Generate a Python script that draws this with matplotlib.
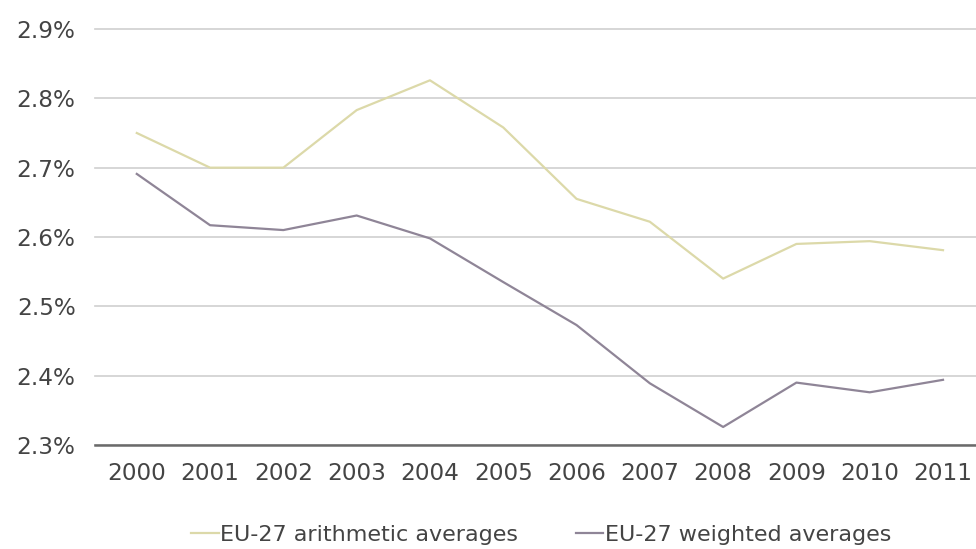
import matplotlib
matplotlib.use("Agg")
import matplotlib.pyplot as plt
from matplotlib.ticker import FuncFormatter

years = ["2000", "2001", "2002", "2003", "2004", "2005", "2006", "2007", "2008", "2009", "2010", "2011"]
arithmetic = [2.75, 2.70, 2.70, 2.783, 2.826, 2.758, 2.655, 2.622, 2.540, 2.590, 2.594, 2.581]
weighted = [2.691, 2.617, 2.610, 2.631, 2.598, 2.535, 2.473, 2.389, 2.326, 2.390, 2.376, 2.394]
yticks = [2.3, 2.4, 2.5, 2.6, 2.7, 2.8, 2.9]

plt.rcParams['font.family'] = ['DejaVu Sans']

fig = plt.figure(figsize=(9.76, 5.49), dpi=100)
ax = fig.add_axes([95/976, 1 - 445/549, 1 - 95/976, (445 - 29)/549])

x = list(range(len(years)))
l1, = ax.plot(x, arithmetic, color="#dcd9a9", lw=1.6, label="EU-27 arithmetic averages")
l2, = ax.plot(x, weighted, color="#8f8597", lw=1.6, label="EU-27 weighted averages")

ax.set_ylim(2.3, 2.9)
ax.set_xlim(-0.57, 11.45)
ax.set_yticks(yticks)
ax.yaxis.set_major_formatter(FuncFormatter(lambda v, p: f"{v:.1f}%"))
ax.set_xticks(x)
ax.set_xticklabels(years)
ax.grid(axis="y", color="#cfcfcf", lw=1.2)
for gl in ax.get_ygridlines():
    gl.set_clip_on(False)
ax.set_axisbelow(True)
for s in ["top", "right", "left"]:
    ax.spines[s].set_visible(False)
ax.spines["bottom"].set_color("#6a6a6a")
ax.spines["bottom"].set_linewidth(1.8)
ax.tick_params(axis="both", length=0, labelsize=16.7, colors="#444444")
ax.tick_params(axis="y", pad=14)
ax.tick_params(axis="x", pad=12)

fig.legend(handles=[l1, l2], loc="center left", bbox_to_anchor=(191/976, 1 - 535/549),
           ncol=2, frameon=False, fontsize=16, handlelength=1.25, handletextpad=0.05,
           columnspacing=2.6, borderaxespad=0, borderpad=0, labelcolor="#444444")

fig.savefig("out.png", dpi=100)
